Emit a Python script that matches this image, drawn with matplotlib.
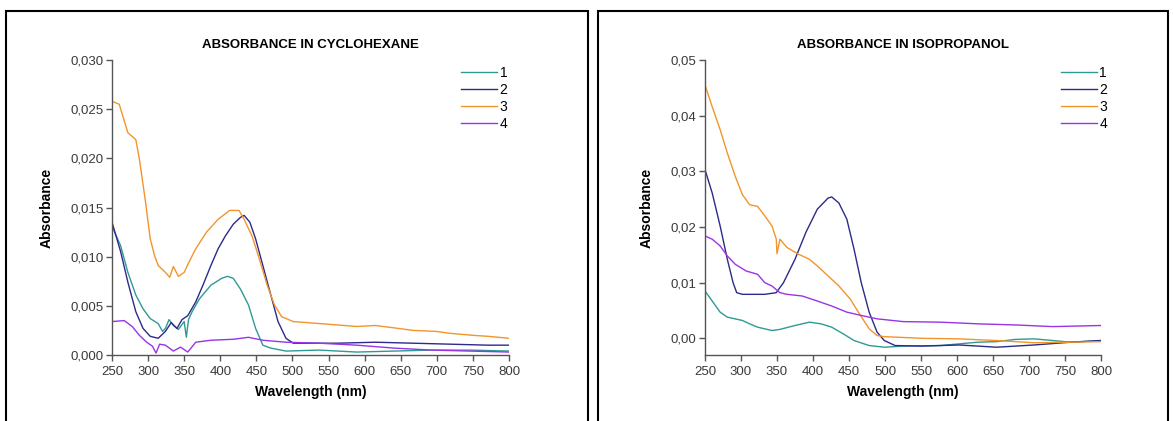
import matplotlib
matplotlib.use('Agg')
import matplotlib.pyplot as plt
from matplotlib.patches import Rectangle
from matplotlib.ticker import FuncFormatter

plt.rcParams['font.family'] = ['Liberation Sans', 'DejaVu Sans']

# ---- absorbance in cyclohexane ----
cyc_wl_1 = [250, 262, 272, 283, 293, 303, 314, 320, 324, 329, 335, 342, 350, 353, 356, 361, 371,
            387, 402, 410, 418, 428, 439, 449, 459, 470, 491, 537, 589, 641, 693, 745, 800]
cyc_abs_1 = [0.0131, 0.0111, 0.0084, 0.0061, 0.0047, 0.0037, 0.0032, 0.0024, 0.0027, 0.0036,
             0.0030, 0.0026, 0.0034, 0.0018, 0.0036, 0.0044, 0.0057, 0.0071, 0.0078, 0.0080,
             0.0078, 0.0067, 0.0051, 0.0027, 0.0010, 0.0007, 0.0004, 0.0005, 0.0003, 0.0004,
             0.0005, 0.0005, 0.0004]

cyc_wl_2 = [250, 262, 272, 283, 293, 303, 314, 324, 332, 340, 347, 355, 366, 376, 387, 397, 407,
            418, 428, 433, 441, 449, 459, 470, 480, 491, 501, 563, 615, 667, 719, 771, 800]
cyc_abs_2 = [0.0135, 0.0105, 0.0074, 0.0044, 0.0027, 0.0019, 0.0017, 0.0024, 0.0033, 0.0027,
             0.0036, 0.0040, 0.0054, 0.0071, 0.0091, 0.0108, 0.0121, 0.0133, 0.0140, 0.0142,
             0.0135, 0.0118, 0.0091, 0.0061, 0.0034, 0.0017, 0.0012, 0.0012, 0.0013, 0.0012,
             0.0011, 0.0010, 0.0010]

cyc_wl_3 = [250, 260, 272, 283, 288, 296, 303, 309, 314, 324, 330, 335, 342, 350, 355, 366, 381,
            397, 413, 426, 433, 444, 454, 465, 475, 485, 501, 537, 589, 615, 647, 667, 699, 719,
            750, 771, 800]
cyc_abs_3 = [0.0258, 0.0255, 0.0226, 0.0219, 0.0199, 0.0158, 0.0118, 0.0101, 0.0091, 0.0084,
             0.0079, 0.0090, 0.0080, 0.0084, 0.0092, 0.0108, 0.0125, 0.0138, 0.0147, 0.0147,
             0.0138, 0.0121, 0.0098, 0.0071, 0.0051, 0.0039, 0.0034, 0.0032, 0.0029, 0.0030,
             0.0027, 0.0025, 0.0024, 0.0022, 0.0020, 0.0019, 0.0017]

cyc_wl_4 = [250, 267, 278, 288, 298, 306, 311, 316, 324, 335, 345, 355, 366, 387, 418, 439, 459,
            491, 537, 589, 641, 693, 745, 800]
cyc_abs_4 = [0.0034, 0.0035, 0.0029, 0.0020, 0.0013, 0.0009, 0.0002, 0.0011, 0.0010, 0.0004,
             0.0008, 0.0003, 0.0013, 0.0015, 0.0016, 0.0018, 0.0015, 0.0013, 0.0012, 0.0010,
             0.0007, 0.0005, 0.0004, 0.0003]

# ---- absorbance in isopropanol ----
iso_wl_1 = [250, 260, 271, 281, 302, 312, 323, 343, 354, 375, 395, 411, 426, 442, 457, 478, 499,
            525, 577, 629, 655, 681, 707, 733, 758, 800]
iso_abs_1 = [0.0085, 0.0067, 0.0047, 0.0038, 0.0032, 0.0026, 0.0020, 0.0014, 0.0016, 0.0023,
             0.0029, 0.0026, 0.0020, 0.0008, -0.0004, -0.0013, -0.0016, -0.0014, -0.0013,
             -0.0007, -0.0006, -0.0002, -0.0001, -0.0004, -0.0007, -0.0004]

iso_wl_2 = [250, 260, 271, 281, 289, 294, 302, 317, 333, 349, 359, 375, 390, 406, 421, 426, 436,
            447, 457, 467, 478, 489, 499, 514, 551, 603, 655, 707, 758, 800]
iso_abs_2 = [0.0303, 0.0261, 0.0202, 0.0142, 0.0100, 0.0082, 0.0079, 0.0079, 0.0079, 0.0082,
             0.0100, 0.0142, 0.0190, 0.0232, 0.0252, 0.0254, 0.0243, 0.0214, 0.0160, 0.0100,
             0.0047, 0.0011, -0.0004, -0.0013, -0.0014, -0.0012, -0.0016, -0.0012, -0.0007,
             -0.0004]

iso_wl_3 = [250, 260, 271, 281, 292, 302, 312, 323, 333, 343, 349, 350, 354, 364, 380, 395, 406,
            421, 436, 452, 463, 478, 489, 499, 551, 603, 655, 707, 758, 800]
iso_abs_3 = [0.0455, 0.0416, 0.0375, 0.0333, 0.0291, 0.0258, 0.0240, 0.0237, 0.0220, 0.0202,
             0.0178, 0.0152, 0.0178, 0.0163, 0.0151, 0.0142, 0.0130, 0.0112, 0.0094, 0.0070,
             0.0047, 0.0017, 0.0005, 0.0003, 0.0000, -0.0001, -0.0004, -0.0008, -0.0007,
             -0.0006]

iso_wl_4 = [250, 260, 271, 281, 292, 307, 323, 333, 343, 354, 364, 385, 406, 426, 447, 467, 489,
            525, 577, 629, 681, 733, 800]
iso_abs_4 = [0.0184, 0.0178, 0.0166, 0.0148, 0.0133, 0.0121, 0.0115, 0.0100, 0.0094, 0.0082,
             0.0079, 0.0076, 0.0067, 0.0058, 0.0047, 0.0041, 0.0035, 0.0030, 0.0029, 0.0026,
             0.0024, 0.0021, 0.0023]

labels = ['1', '2', '3', '4']
colors = ['#2f9a94', '#2c2a8a', '#f2952a', '#9a34e6']
x_ticks = list(range(250, 801, 50))


def comma_fmt(decimals):
    return FuncFormatter(lambda v, pos: f'{v:.{decimals}f}'.replace('.', ','))


def draw_panel(ax, curves, title, ylim, yticks, decimals, legend_x):
    for (wl, ab), lab, col in zip(curves, labels, colors):
        ax.plot(wl, ab, color=col, lw=1.0, label=lab)
    ax.set_xlim(250, 800)
    ax.set_ylim(*ylim)
    ax.set_xticks(x_ticks)
    ax.set_yticks(yticks)
    ax.yaxis.set_major_formatter(comma_fmt(decimals))
    for side in ('top', 'right'):
        ax.spines[side].set_visible(False)
    for side in ('left', 'bottom'):
        ax.spines[side].set_color('#555555')
        ax.spines[side].set_linewidth(1.0)
    ax.tick_params(colors='#555555', labelcolor='#3a3a3a', labelsize=9.5, length=4, width=1)
    ax.tick_params(axis='x', pad=4)
    ax.tick_params(axis='y', pad=2)
    ax.set_title(title, fontsize=9.5, fontweight='bold', pad=9)
    ax.set_xlabel('Wavelength (nm)', fontsize=10, fontweight='bold', labelpad=5)
    ax.set_ylabel('Absorbance', fontsize=10, fontweight='bold', labelpad=12)
    ax.legend(loc='upper right', bbox_to_anchor=(legend_x, 1.0), frameon=False, fontsize=10,
              handlelength=2.6, handletextpad=0.2, labelspacing=0.22, borderaxespad=0)


fig = plt.figure(figsize=(11.73, 4.21), dpi=100)

# panel frames
fig.patches.append(Rectangle((6 / 1173, -0.01), 582 / 1173, 1 - 11 / 421 + 0.01,
                             transform=fig.transFigure, fill=False, ec='black', lw=1.5))
fig.patches.append(Rectangle((598 / 1173, -0.01), 570 / 1173, 1 - 11 / 421 + 0.01,
                             transform=fig.transFigure, fill=False, ec='black', lw=1.5))

ax1 = fig.add_axes([112 / 1173, 1 - 355 / 421, 397 / 1173, 295 / 421])
draw_panel(ax1, [(cyc_wl_1, cyc_abs_1), (cyc_wl_2, cyc_abs_2), (cyc_wl_3, cyc_abs_3),
                 (cyc_wl_4, cyc_abs_4)],
           'ABSORBANCE IN CYCLOHEXANE', (0, 0.030),
           [0, 0.005, 0.010, 0.015, 0.020, 0.025, 0.030], 3, 1.01)

ax2 = fig.add_axes([705 / 1173, 1 - 355 / 421, 396 / 1173, 295 / 421])
draw_panel(ax2, [(iso_wl_1, iso_abs_1), (iso_wl_2, iso_abs_2), (iso_wl_3, iso_abs_3),
                 (iso_wl_4, iso_abs_4)],
           'ABSORBANCE IN ISOPROPANOL', (-0.003, 0.05),
           [0, 0.01, 0.02, 0.03, 0.04, 0.05], 2, 1.03)

fig.savefig('out.png', dpi=100)
